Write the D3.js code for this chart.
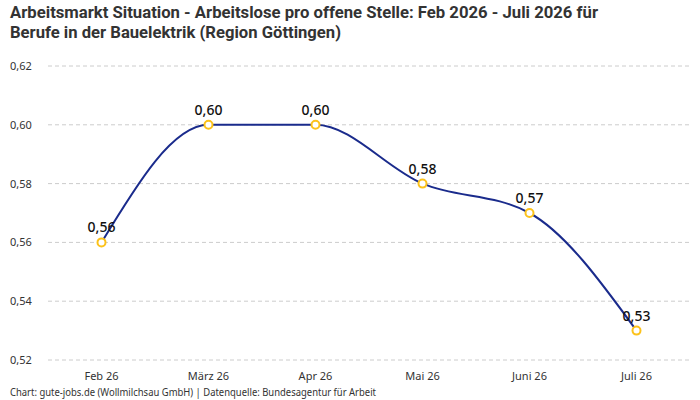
<!DOCTYPE html>
<html>
<head>
<meta charset="utf-8">
<script src="https://cdn.jsdelivr.net/npm/d3@7"></script>
<style>
  body { margin: 0; background: #fff; }
  svg { display: block; }
</style>
</head>
<body>
<div id="chart"></div>
<script>
// Daten
const months = ["Feb 26", "März 26", "Apr 26", "Mai 26", "Juni 26", "Juli 26"];
const values = [0.56, 0.60, 0.60, 0.58, 0.57, 0.53];
const yTicks = [0.52, 0.54, 0.56, 0.58, 0.60, 0.62];

const width = 700, height = 400;
const fmt = d => d.toFixed(2).replace(".", ",");

const svg = d3.select("#chart")
    .append("svg")
    .attr("width", width)
    .attr("height", height);

// Titel (schmal gesetzt wie im Original)
const title = svg.append("text")
    .attr("font-family", "'Roboto', sans-serif")
    .attr("font-weight", "bold")
    .attr("font-size", 17)
    .attr("fill", "#333");
title.append("tspan").attr("x", 10).attr("y", 18)
    .attr("textLength", 588).attr("lengthAdjust", "spacingAndGlyphs")
    .text("Arbeitsmarkt Situation - Arbeitslose pro offene Stelle: Feb 2026 - Juli 2026 für");
title.append("tspan").attr("x", 10).attr("y", 38)
    .attr("textLength", 331).attr("lengthAdjust", "spacingAndGlyphs")
    .text("Berufe in der Bauelektrik (Region Göttingen)");

const x = d3.scaleBand()
    .domain(months)
    .range([48, 690]);

const y = d3.scaleLinear()
    .domain([0.52, 0.62])
    .range([360, 66]);

// Gitterlinien
svg.selectAll(".grid")
    .data(yTicks)
    .enter()
    .append("line")
    .attr("x1", 48)
    .attr("x2", 690)
    .attr("y1", d => y(d))
    .attr("y2", d => y(d))
    .attr("stroke", "#ccc")
    .attr("stroke-dasharray", "4,3");

svg.selectAll(".ylabel")
    .data(yTicks)
    .enter()
    .append("text")
    .attr("x", 10)
    .attr("y", d => y(d) + 4)
    .attr("font-family", "'Noto Sans', sans-serif")
    .attr("font-size", 11)
    .attr("fill", "#333")
    .text(fmt);

svg.selectAll(".xlabel")
    .data(months)
    .enter()
    .append("text")
    .attr("x", d => x(d) + x.bandwidth() / 2)
    .attr("y", 380)
    .attr("text-anchor", "middle")
    .attr("font-family", "'Noto Sans', sans-serif")
    .attr("font-size", 11)
    .attr("fill", "#333")
    .text(d => d);

// Linie
const line = d3.line()
    .x((d, i) => x(months[i]) + x.bandwidth() / 2)
    .y(d => y(d))
    .curve(d3.curveMonotoneX);

svg.append("path")
    .datum(values)
    .attr("d", line)
    .attr("fill", "none")
    .attr("stroke", "#1a2b8c")
    .attr("stroke-width", 2);

svg.selectAll(".dot")
    .data(values)
    .enter()
    .append("circle")
    .attr("cx", (d, i) => x(months[i]) + x.bandwidth() / 2)
    .attr("cy", d => y(d))
    .attr("r", 4)
    .attr("fill", "#fff")
    .attr("stroke", "#fcc21b")
    .attr("stroke-width", 2);

svg.selectAll(".val")
    .data(values)
    .enter()
    .append("text")
    .attr("x", (d, i) => x(months[i]) + x.bandwidth() / 2)
    .attr("y", d => y(d) - 10)
    .attr("text-anchor", "middle")
    .attr("font-family", "'Noto Sans', sans-serif")
    .attr("font-weight", "500")
    .attr("font-size", 14)
    .attr("fill", "#111")
    .text(fmt);

// Quelle
svg.append("text")
    .attr("x", 10)
    .attr("y", 396)
    .attr("font-family", "'Noto Sans', sans-serif")
    .attr("font-size", 10)
    .attr("fill", "#333")
    .attr("textLength", 366)
    .attr("lengthAdjust", "spacingAndGlyphs")
    .text("Chart: gute-jobs.de (Wollmilchsau GmbH) | Datenquelle: Bundesagentur für Arbeit");
</script>
</body>
</html>
